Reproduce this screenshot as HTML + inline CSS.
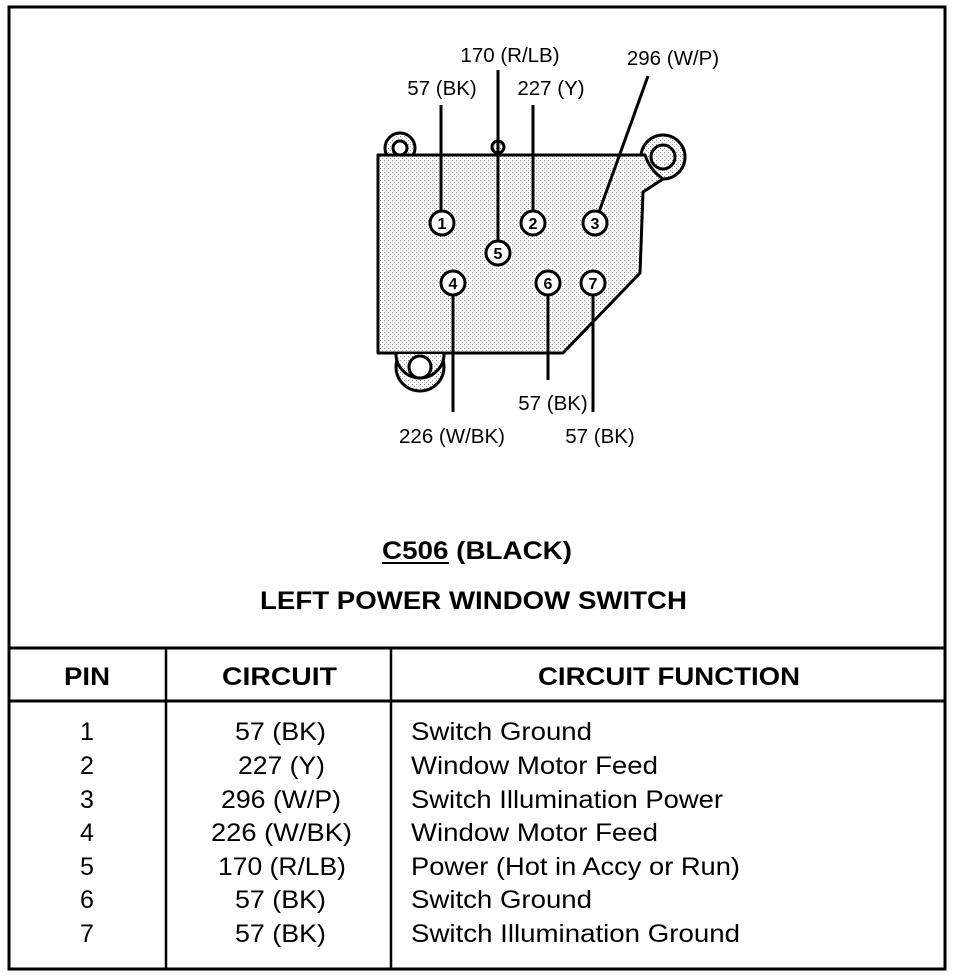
<!DOCTYPE html>
<html><head><meta charset="utf-8"><style>
html,body{margin:0;padding:0;background:#fff;}
svg{display:block;}
text{font-family:"Liberation Sans",Arial,sans-serif;fill:#000;}
</style></head><body>
<svg width="960" height="978" viewBox="0 0 960 978" xmlns="http://www.w3.org/2000/svg">
<defs>
<pattern id="dots" width="4" height="4" patternUnits="userSpaceOnUse">
<rect width="4" height="4" fill="#fff"/>
<rect x="0" y="0" width="1" height="1" fill="#888"/>
<rect x="2" y="2" width="1" height="1" fill="#aaa"/>
</pattern>
</defs>
<rect x="9" y="7" width="936" height="962" fill="none" stroke="#000" stroke-width="3"/>
<line x1="9" y1="648" x2="945" y2="648" stroke="#000" stroke-width="3"/>
<line x1="9" y1="701" x2="945" y2="701" stroke="#000" stroke-width="3"/>
<line x1="166" y1="648" x2="166" y2="969" stroke="#000" stroke-width="2.5"/>
<line x1="391" y1="648" x2="391" y2="969" stroke="#000" stroke-width="2.5"/>

<circle cx="400" cy="148" r="15" fill="url(#dots)" stroke="#000" stroke-width="3"/>
<circle cx="663" cy="157" r="22" fill="url(#dots)" stroke="#000" stroke-width="3"/>
<circle cx="420" cy="367" r="24" fill="url(#dots)" stroke="#000" stroke-width="3"/>
<circle cx="498" cy="147" r="6" fill="url(#dots)" stroke="#000" stroke-width="3"/>
<path d="M378 155 L645 155 Q650 170 663 179 L643 192 L640 273 L563 353 L378 353 Z" fill="url(#dots)" stroke="#000" stroke-width="3" stroke-linejoin="round"/>
<circle cx="400" cy="148" r="7" fill="#fff" stroke="#000" stroke-width="3"/>
<circle cx="663" cy="157" r="12" fill="url(#dots)" stroke="#000" stroke-width="3"/>
<path d="M396 354 A24 24 0 0 0 444 354" fill="url(#dots)" stroke="#000" stroke-width="3"/>
<circle cx="420" cy="367" r="11" fill="#fff" stroke="#000" stroke-width="3"/>

<g stroke="#000" stroke-width="3">
<line x1="441" y1="105" x2="441" y2="211"/>
<line x1="498" y1="70" x2="498" y2="241"/>
<line x1="533" y1="105" x2="533" y2="211"/>
<line x1="599" y1="212" x2="648" y2="76"/>
<line x1="453" y1="295" x2="453" y2="412"/>
<line x1="548" y1="295" x2="548" y2="380"/>
<line x1="593" y1="295" x2="593" y2="412"/>
</g>
<g stroke="#000" stroke-width="3" fill="#fff">
<circle cx="442" cy="223" r="12"/>
<circle cx="533" cy="223" r="12"/>
<circle cx="595" cy="223" r="12"/>
<circle cx="498" cy="253" r="12"/>
<circle cx="453" cy="283" r="12"/>
<circle cx="548" cy="283" r="12"/>
<circle cx="593" cy="283" r="12"/>
</g>
<g font-size="16" font-weight="bold" text-anchor="middle">
<text x="442" y="229">1</text>
<text x="533" y="229">2</text>
<text x="595" y="229">3</text>
<text x="498" y="259">5</text>
<text x="453" y="289">4</text>
<text x="548" y="289">6</text>
<text x="593" y="289">7</text>
</g>
<g font-size="20.5" text-anchor="middle">
<text x="510" y="62">170 (R/LB)</text>
<text x="442" y="95">57 (BK)</text>
<text x="551" y="95">227 (Y)</text>
<text x="673" y="65">296 (W/P)</text>
<text x="553" y="410">57 (BK)</text>
<text x="452" y="443">226 (W/BK)</text>
<text x="600" y="443">57 (BK)</text>
</g>

<g font-size="25" font-weight="bold">
<text x="382" y="559" textLength="190" lengthAdjust="spacingAndGlyphs">C506 (BLACK)</text>
<text x="260" y="609" textLength="427" lengthAdjust="spacingAndGlyphs">LEFT POWER WINDOW SWITCH</text>
</g>
<line x1="382" y1="563" x2="449" y2="563" stroke="#000" stroke-width="2"/>

<g font-size="25" font-weight="bold">
<text x="64" y="685" textLength="46" lengthAdjust="spacingAndGlyphs">PIN</text>
<text x="222" y="685" textLength="115" lengthAdjust="spacingAndGlyphs">CIRCUIT</text>
<text x="538" y="685" textLength="262" lengthAdjust="spacingAndGlyphs">CIRCUIT FUNCTION</text>
</g>
<g font-size="25">
<g text-anchor="middle">
<text x="87" y="740">1</text>
<text x="87" y="774">2</text>
<text x="87" y="808">3</text>
<text x="87" y="841">4</text>
<text x="87" y="875">5</text>
<text x="87" y="908">6</text>
<text x="87" y="942">7</text>
</g>
<text x="235" y="740" textLength="91" lengthAdjust="spacingAndGlyphs">57 (BK)</text>
<text x="238" y="774" textLength="87" lengthAdjust="spacingAndGlyphs">227 (Y)</text>
<text x="221" y="808" textLength="120" lengthAdjust="spacingAndGlyphs">296 (W/P)</text>
<text x="211" y="841" textLength="141" lengthAdjust="spacingAndGlyphs">226 (W/BK)</text>
<text x="218" y="875" textLength="128" lengthAdjust="spacingAndGlyphs">170 (R/LB)</text>
<text x="235" y="908" textLength="91" lengthAdjust="spacingAndGlyphs">57 (BK)</text>
<text x="235" y="942" textLength="91" lengthAdjust="spacingAndGlyphs">57 (BK)</text>
<text x="411" y="740" textLength="181" lengthAdjust="spacingAndGlyphs">Switch Ground</text>
<text x="411" y="774" textLength="247" lengthAdjust="spacingAndGlyphs">Window Motor Feed</text>
<text x="411" y="808" textLength="312" lengthAdjust="spacingAndGlyphs">Switch Illumination Power</text>
<text x="411" y="841" textLength="247" lengthAdjust="spacingAndGlyphs">Window Motor Feed</text>
<text x="411" y="875" textLength="329" lengthAdjust="spacingAndGlyphs">Power (Hot in Accy or Run)</text>
<text x="411" y="908" textLength="181" lengthAdjust="spacingAndGlyphs">Switch Ground</text>
<text x="411" y="942" textLength="329" lengthAdjust="spacingAndGlyphs">Switch Illumination Ground</text>
</g>
</svg>
</body></html>
